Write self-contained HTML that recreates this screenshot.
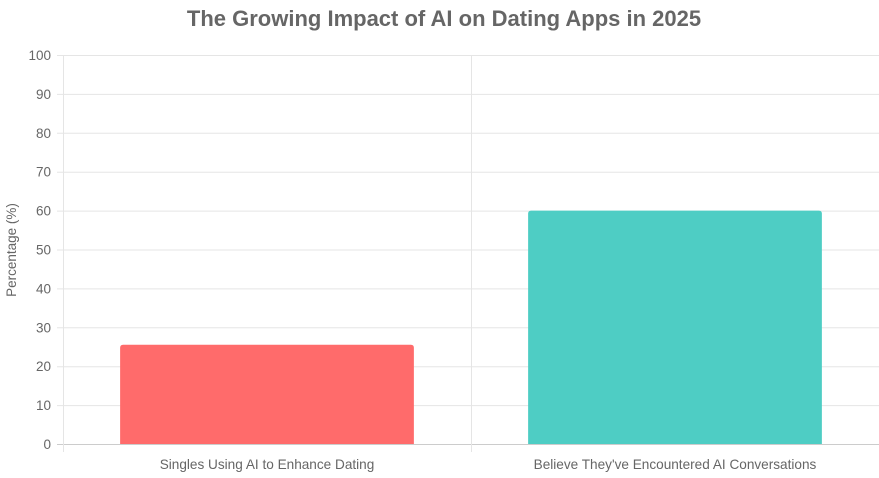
<!DOCTYPE html>
<html><head><meta charset="utf-8"><style>
html,body{margin:0;padding:0;background:#fff;}
svg{display:block;font-family:"Liberation Sans",Arial,sans-serif;}
</style></head><body>
<svg id="chart" width="879" height="478">
<text x="444" y="26" text-anchor="middle" font-size="22" font-weight="bold" fill="#666">The Growing Impact of AI on Dating Apps in 2025</text>
<text transform="translate(16,250) rotate(-90)" text-anchor="middle" font-size="13.5" fill="#666">Percentage (%)</text>
<g id="grid"></g><g id="bars"></g><g id="labels"></g>
</svg>
<script>
const categories=["Singles Using AI to Enhance Dating","Believe They've Encountered AI Conversations"];
const values=[25.5,60];
const colors=["#FF6B6B","#4ECDC4"];
const yTicks=[0,10,20,30,40,50,60,70,80,90,100];
const NS="http://www.w3.org/2000/svg";
const L=63,R=879,T=55,B=444;
const y=v=>B-(v/100)*(B-T);
const bw=(R-L)/categories.length;
const x=i=>L+bw*i;
function mk(t,a,p){const e=document.createElementNS(NS,t);for(const k in a)e.setAttribute(k,a[k]);p.appendChild(e);return e;}
const g=document.getElementById('grid'),bg=document.getElementById('bars'),lg=document.getElementById('labels');
yTicks.forEach(v=>{
 const ln=mk('line',{x1:L-6,x2:R,y1:y(v)+0.5,y2:y(v)+0.5,stroke:v===0?'#ccc':'#e5e5e5','stroke-width':1},g);
 
 
 const t=mk('text',{x:L-12,y:y(v)+5,'text-anchor':'end','font-size':13.5,fill:'#666'},g);
 t.textContent=v;
 
 
});
for(let i=0;i<=categories.length;i++){
 const ln=mk('line',{x1:x(i)+0.5,x2:x(i)+0.5,y1:T,y2:B+8,stroke:'#e5e5e5'},g);
 
 
}
categories.forEach((c,i)=>{
 const w=bw*0.72,bx=x(i)+(bw-w)/2;
 const r=mk('path',{d:`M${bx},${B} V${y(values[i])+3} Q${bx},${y(values[i])} ${bx+3},${y(values[i])} H${bx+w-3} Q${bx+w},${y(values[i])} ${bx+w},${y(values[i])+3} V${B} Z`,fill:colors[i]},bg);
 
 
 const t=mk('text',{x:x(i)+bw/2,y:469,'text-anchor':'middle','font-size':13.6,fill:'#666'},lg);
 t.textContent=c;
 
 
});
</script>
</body></html>
